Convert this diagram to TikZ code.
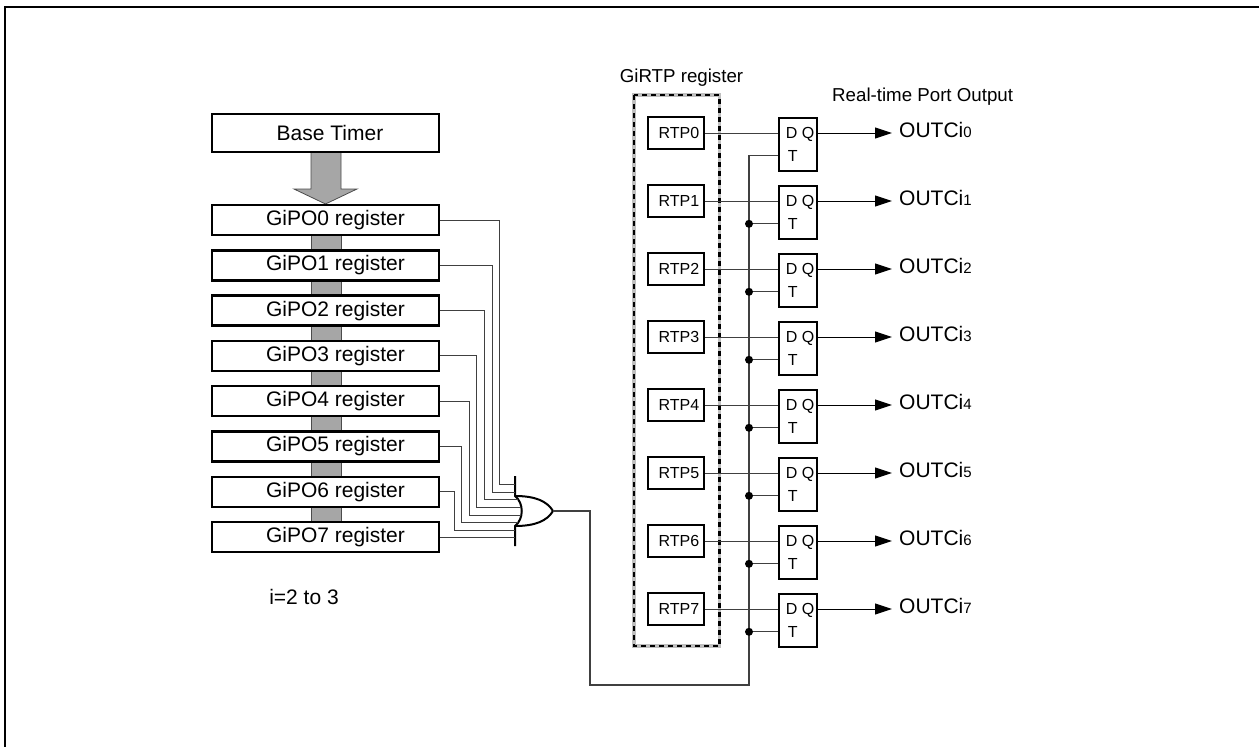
\documentclass[tikz,border=0pt]{standalone}
\usepackage{fontspec}
\setmainfont{Liberation Sans}
\usepackage{tikz}
\usetikzlibrary{arrows.meta,calc}
\newcommand{\outci}[1]{OUTCi{\fontsize{15}{18}\selectfont #1}}
\newcommand{\ffpins}{\hspace*{4pt}D Q\\\hspace*{6pt}T}

\begin{document}
\begin{tikzpicture}[
    x=1pt, y=-1pt,
    regbox/.style={draw, line width=2.4pt, fill=white, minimum width=227pt, minimum height=30pt, inner sep=0pt, font=\fontsize{21}{24}\selectfont},
    reg/.style={regbox, execute at begin node=\hspace{20pt}},
    rtp/.style={draw, line width=2pt, fill=white, minimum width=56pt, minimum height=32pt, inner sep=0pt, font=\fontsize{16}{20}\selectfont, execute at begin node=\hspace{6pt}},
    ff/.style={draw, line width=1.8pt, fill=white, minimum width=38pt, minimum height=53pt, inner sep=0pt, align=left, font=\fontsize{16}{23}\selectfont},
    txt/.style={inner sep=0pt, font=\fontsize{18.7}{22}\selectfont},
    outlabel/.style={inner sep=0pt, anchor=west, font=\fontsize{21}{24}\selectfont},
    wire/.style={line width=1pt, black!75},
    sig/.style={-{Triangle[length=17pt,width=11pt]}, line width=1pt, shorten >=7pt},
    dot/.style={circle, fill=black, inner sep=0pt, minimum size=8pt},
    bar/.style={draw=black!70, line width=0.8pt, fill=black!35}
]
\useasboundingbox (0,0) rectangle (1259,747);
\draw[line width=2.5pt] (5,747) -- (5,7) -- (1259,7);

% gray bus behind the registers
\draw[bar] (311,220) rectangle (341,537);
\draw[bar] (311,150) -- (311,189) -- (294,189) -- (325.5,204) -- (357,189) -- (341,189) -- (341,150) -- cycle;

\node[regbox, minimum height=38pt, execute at begin node=\hspace{9pt}] (base) at (325.5,133) {Base Timer};
\node[reg] (gipo0) at (325.5,220) {GiPO0 register};
\node[reg] (gipo1) at (325.5,265.3) {GiPO1 register};
\node[reg] (gipo2) at (325.5,310.6) {GiPO2 register};
\node[reg] (gipo3) at (325.5,355.9) {GiPO3 register};
\node[reg] (gipo4) at (325.5,401.2) {GiPO4 register};
\node[reg] (gipo5) at (325.5,446.5) {GiPO5 register};
\node[reg] (gipo6) at (325.5,491.8) {GiPO6 register};
\node[reg] (gipo7) at (325.5,537.1) {GiPO7 register};
\node[txt, font=\fontsize{21}{24}\selectfont] (range) at (304,597) {i=2 to 3};

% or gate
\draw[line width=2pt] (515,476) -- (515,496) .. controls (524,503) and (524,519) .. (515,526) -- (515,546);
\draw[line width=2pt] (515,496) .. controls (535,496) and (547,501) .. (553,511) .. controls (547,521) and (535,526) .. (515,526);
\coordinate (orout) at (553,511);

\draw[wire] (gipo0.east) -| (499.5,484.3) -- (515,484.3);
\draw[wire] (gipo1.east) -| (492,492) -- (515,492);
\draw[wire] (gipo2.east) -| (484.5,499.7) -- (518,499.7);
\draw[wire] (gipo3.east) -| (476.7,507.3) -- (520.5,507.3);
\draw[wire] (gipo4.east) -| (469.3,515) -- (520.5,515);
\draw[wire] (gipo5.east) -| (461.7,522.7) -- (518,522.7);
\draw[wire] (gipo6.east) -| (454,530.3) -- (515,530.3);
\draw[wire] (gipo7.east) -- (515,537.1);

% real-time port
\draw[line width=3.5pt, black!25] (634,95) rectangle (719.5,646);
\draw[line width=2.6pt, dash pattern=on 5pt off 4pt] (634,95) rectangle (719.5,646);
\node[txt] (girtp) at (681.5,78) {GiRTP register};
\node[txt, anchor=west] (port) at (832,97) {Real-time Port Output};

\node[rtp] (rtp0) at (676,133) {RTP0};
\node[rtp] (rtp1) at (676,201) {RTP1};
\node[rtp] (rtp2) at (676,269) {RTP2};
\node[rtp] (rtp3) at (676,337) {RTP3};
\node[rtp] (rtp4) at (676,405) {RTP4};
\node[rtp] (rtp5) at (676,473) {RTP5};
\node[rtp] (rtp6) at (676,541) {RTP6};
\node[rtp] (rtp7) at (676,609) {RTP7};

\node[ff] (ff0) at (798,144.5) {\ffpins};
\node[ff] (ff1) at (798,212.5) {\ffpins};
\node[ff] (ff2) at (798,280.5) {\ffpins};
\node[ff] (ff3) at (798,348.5) {\ffpins};
\node[ff] (ff4) at (798,416.5) {\ffpins};
\node[ff] (ff5) at (798,484.5) {\ffpins};
\node[ff] (ff6) at (798,552.5) {\ffpins};
\node[ff] (ff7) at (798,620.5) {\ffpins};

\node[outlabel] (out0) at (899,130) {\outci{0}};
\node[outlabel] (out1) at (899,198) {\outci{1}};
\node[outlabel] (out2) at (899,266) {\outci{2}};
\node[outlabel] (out3) at (899,334) {\outci{3}};
\node[outlabel] (out4) at (899,402) {\outci{4}};
\node[outlabel] (out5) at (899,470) {\outci{5}};
\node[outlabel] (out6) at (899,538) {\outci{6}};
\node[outlabel] (out7) at (899,606) {\outci{7}};

\draw[wire] (rtp0) -- (rtp0 -| ff0.west);
\draw[wire] (rtp1.east) -- (rtp1 -| ff1.west);
\draw[wire] (rtp2.east) -- (rtp2 -| ff2.west);
\draw[wire] (rtp3.east) -- (rtp3 -| ff3.west);
\draw[wire] (rtp4.east) -- (rtp4 -| ff4.west);
\draw[wire] (rtp5.east) -- (rtp5 -| ff5.west);
\draw[wire] (rtp6.east) -- (rtp6 -| ff6.west);
\draw[wire] (rtp7.east) -- (rtp7 -| ff7.west);

\draw[sig] (rtp0 -| ff0.east) -- (rtp0 -| out0.west);
\draw[sig] (rtp1 -| ff1.east) -- (rtp1 -| out1.west);
\draw[sig] (rtp2 -| ff2.east) -- (rtp2 -| out2.west);
\draw[sig] (rtp3 -| ff3.east) -- (rtp3 -| out3.west);
\draw[sig] (rtp4 -| ff4.east) -- (rtp4 -| out4.west);
\draw[sig] (rtp5 -| ff5.east) -- (rtp5 -| out5.west);
\draw[sig] (rtp6 -| ff6.east) -- (rtp6 -| out6.west);
\draw[sig] (rtp7 -| ff7.east) -- (rtp7 -| out7.west);

% clock bus
\draw[wire, line width=1.2pt] (orout) -| (590,685) -- (749,685) |- ($(ff0.west)+(0,11.3)$);
\node[dot] (dot1) at (749,223.8) {};
\node[dot] (dot2) at (749,291.8) {};
\node[dot] (dot3) at (749,359.8) {};
\node[dot] (dot4) at (749,427.8) {};
\node[dot] (dot5) at (749,495.8) {};
\node[dot] (dot6) at (749,563.8) {};
\node[dot] (dot7) at (749,631.8) {};
\draw[wire] (dot1) -- (dot1 -| ff1.west);
\draw[wire] (dot2) -- (dot2 -| ff2.west);
\draw[wire] (dot3) -- (dot3 -| ff3.west);
\draw[wire] (dot4) -- (dot4 -| ff4.west);
\draw[wire] (dot5) -- (dot5 -| ff5.west);
\draw[wire] (dot6) -- (dot6 -| ff6.west);
\draw[wire] (dot7) -- (dot7 -| ff7.west);
\end{tikzpicture}
\end{document}
